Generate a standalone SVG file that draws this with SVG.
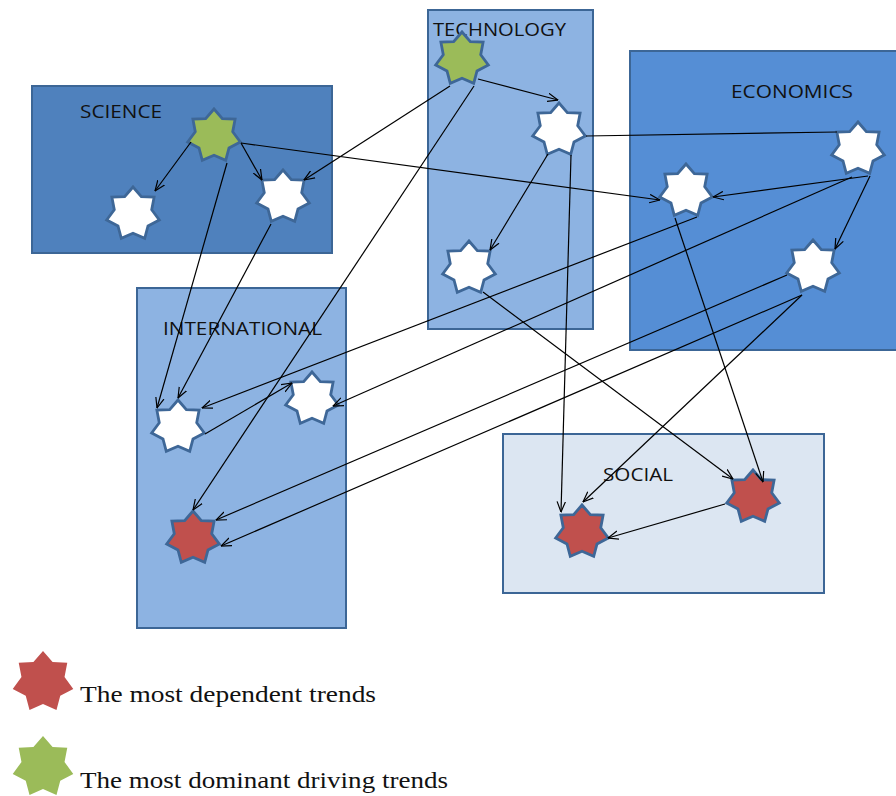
<svg xmlns="http://www.w3.org/2000/svg" xmlns:xlink="http://www.w3.org/1999/xlink" width="896" height="796" viewBox="0 0 896 796">
  <style>
    .box { stroke: #3C6696; stroke-width: 2; }
    .sci { fill: #4F81BD; }
    .light { fill: #8DB3E2; }
    .eco { fill: #558ED5; }
    .soc { fill: #DCE6F2; }
    .label { font-family: "Open Sans", "Liberation Sans", Arial, sans-serif; font-size: 19px; fill: #111; }
    .legend { font-family: "Liberation Serif", "Times New Roman", serif; font-size: 23px; fill: #111; }
    .star { stroke: #3E6797; stroke-width: 2.8; stroke-linejoin: miter; }
    .white { fill: #FFFFFF; }
    .red { fill: #C0504D; }
    .green { fill: #9BBB59; }
    .edge { stroke: #000; stroke-width: 1.2; fill: none; }
  </style>
  <defs>
    <!-- seven-pointed star, point up, centred on the origin -->
    <path id="star7" d="M0,-27 L8.33,-17.3 L21.11,-16.83 L18.72,-4.27 L26.32,6.01 L15.01,11.97 L11.72,24.33 L0,19.2 L-11.72,24.33 L-15.01,11.97 L-26.32,6.01 L-18.72,-4.27 L-21.11,-16.83 L-8.33,-17.3 Z"/>
    <marker id="arrow" markerUnits="userSpaceOnUse" viewBox="0 0 11 10" refX="10.5" refY="5" markerWidth="11" markerHeight="10" orient="auto">
      <path d="M0,0.8 L10.5,5 L0,9.2" fill="none" stroke="#000" stroke-width="1.2"/>
    </marker>
  </defs>

  <!-- topic areas -->
  <g id="area-science">
    <rect class="box sci" x="32" y="86" width="300" height="167"/>
    <text class="label" x="80" y="118" textLength="82" lengthAdjust="spacingAndGlyphs">SCIENCE</text>
  </g>
  <g id="area-technology">
    <rect class="box light" x="428" y="10" width="165" height="319"/>
    <text class="label" x="433" y="36" textLength="133" lengthAdjust="spacingAndGlyphs">TECHNOLOGY</text>
  </g>
  <g id="area-economics">
    <rect class="box eco" x="630" y="51" width="270" height="299"/>
    <text class="label" x="731" y="98" textLength="122" lengthAdjust="spacingAndGlyphs">ECONOMICS</text>
  </g>
  <g id="area-international">
    <rect class="box light" x="137" y="288" width="209" height="340"/>
    <text class="label" x="163" y="335" textLength="159" lengthAdjust="spacingAndGlyphs">INTERNATIONAL</text>
  </g>
  <g id="area-social">
    <rect class="box soc" x="503" y="434" width="321" height="159"/>
    <text class="label" x="603" y="481" textLength="70" lengthAdjust="spacingAndGlyphs">SOCIAL</text>
  </g>

  <!-- trends -->
  <g id="sci-driver"><use xlink:href="#star7" class="star green" x="214" y="136"/></g>
  <g id="sci-1"><use xlink:href="#star7" class="star white" x="133" y="214"/></g>
  <g id="sci-2"><use xlink:href="#star7" class="star white" x="283" y="197"/></g>
  <g id="tech-driver"><use xlink:href="#star7" class="star green" x="462" y="59"/></g>
  <g id="tech-1"><use xlink:href="#star7" class="star white" x="559" y="130"/></g>
  <g id="tech-2"><use xlink:href="#star7" class="star white" x="469" y="268"/></g>
  <g id="eco-1"><use xlink:href="#star7" class="star white" x="858" y="149"/></g>
  <g id="eco-2"><use xlink:href="#star7" class="star white" x="686" y="191"/></g>
  <g id="eco-3"><use xlink:href="#star7" class="star white" x="813" y="267"/></g>
  <g id="intl-1"><use xlink:href="#star7" class="star white" x="178" y="427"/></g>
  <g id="intl-2"><use xlink:href="#star7" class="star white" x="312" y="399"/></g>
  <g id="intl-dep"><use xlink:href="#star7" class="star red" x="193" y="538"/></g>
  <g id="soc-dep-1"><use xlink:href="#star7" class="star red" x="582" y="532"/></g>
  <g id="soc-dep-2"><use xlink:href="#star7" class="star red" x="753" y="497"/></g>

  <!-- influence links -->
  <g id="connectors" class="edge">
    <line x1="191" y1="142" x2="155" y2="191" marker-end="url(#arrow)"/>
    <line x1="241" y1="143" x2="262" y2="180" marker-end="url(#arrow)"/>
    <line x1="241" y1="143" x2="660" y2="200" marker-end="url(#arrow)"/>
    <line x1="227" y1="163" x2="157" y2="408" marker-end="url(#arrow)"/>
    <line x1="271" y1="224" x2="178" y2="398" marker-end="url(#arrow)"/>
    <line x1="478" y1="79" x2="558" y2="100" marker-end="url(#arrow)"/>
    <line x1="450" y1="86" x2="304" y2="180" marker-end="url(#arrow)"/>
    <line x1="474" y1="86" x2="193" y2="510" marker-end="url(#arrow)"/>
    <line x1="548" y1="154" x2="490" y2="250" marker-end="url(#arrow)"/>
    <line x1="571" y1="155" x2="561" y2="512" marker-end="url(#arrow)"/>
    <line x1="586" y1="136" x2="837" y2="132"/>
    <line x1="483" y1="292" x2="733" y2="479" marker-end="url(#arrow)"/>
    <line x1="868" y1="176" x2="713" y2="197" marker-end="url(#arrow)"/>
    <line x1="870" y1="176" x2="835" y2="249" marker-end="url(#arrow)"/>
    <line x1="852" y1="177" x2="333" y2="406" marker-end="url(#arrow)"/>
    <line x1="697" y1="217" x2="202" y2="408" marker-end="url(#arrow)"/>
    <line x1="205" y1="434" x2="292" y2="383" marker-end="url(#arrow)"/>
    <line x1="675" y1="218" x2="763" y2="482" marker-end="url(#arrow)"/>
    <line x1="787" y1="275" x2="216" y2="520" marker-end="url(#arrow)"/>
    <line x1="802" y1="295" x2="221" y2="546" marker-end="url(#arrow)"/>
    <line x1="802" y1="295" x2="583" y2="502" marker-end="url(#arrow)"/>
    <line x1="725" y1="504" x2="608" y2="538" marker-end="url(#arrow)"/>
  </g>

  <!-- key -->
  <g id="legend">
    <use xlink:href="#star7" class="red" transform="translate(43,682) scale(1.15)"/>
    <text class="legend" x="80" y="702" textLength="296" lengthAdjust="spacingAndGlyphs">The most dependent trends</text>
    <use xlink:href="#star7" class="green" transform="translate(43,767) scale(1.15)"/>
    <text class="legend" x="80" y="788" textLength="368" lengthAdjust="spacingAndGlyphs">The most dominant driving trends</text>
  </g>
</svg>
